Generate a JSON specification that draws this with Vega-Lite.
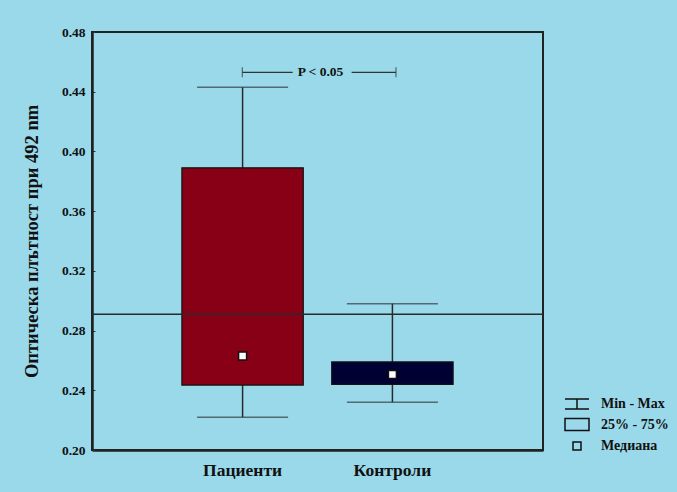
{
  "$schema": "https://vega.github.io/schema/vega-lite/v6.json",
  "width": 451,
  "height": 418,
  "autosize": {"type": "none"},
  "padding": {"left": 92, "top": 32, "right": 134, "bottom": 42},
  "background": "#99D9EA",
  "config": {
    "view": {"stroke": "#222222", "strokeWidth": 2},
    "font": "Liberation Serif",
    "axis": {
      "labelFont": "Liberation Serif",
      "labelFontWeight": "bold",
      "titleFont": "Liberation Serif",
      "titleFontWeight": "bold",
      "labelColor": "#111111",
      "titleColor": "#111111",
      "grid": false,
      "domainColor": "#222222",
      "tickColor": "#333333"
    }
  },
  "resolve": {"scale": {"x": "independent"}},
  "layer": [
    {
      "data": {
        "values": [
          {"group": "Пациенти", "min": 0.222, "q1": 0.2435, "median": 0.263, "q3": 0.389, "max": 0.443},
          {"group": "Контроли", "min": 0.232, "q1": 0.244, "median": 0.2505, "q3": 0.259, "max": 0.298}
        ]
      },
      "layer": [
        {
          "mark": {"type": "rule", "color": "#2a2a2a", "strokeWidth": 1.5},
          "encoding": {
            "x": {
              "field": "group",
              "type": "nominal",
              "scale": {"domain": ["Пациенти", "Контроли"], "paddingInner": 0.19, "paddingOuter": 0.6},
              "axis": {"title": null, "labelAngle": 0, "labelFontSize": 17.5, "ticks": false, "labelPadding": 11, "domainWidth": 2.5}
            },
            "y": {
              "field": "min",
              "type": "quantitative",
              "scale": {"domain": [0.2, 0.48], "nice": false, "zero": false},
              "axis": {
                "title": "Оптическа плътност при 492 nm",
                "titleFontSize": 18.5,
                "titlePadding": 20,
                "labelFontSize": 13.5,
                "values": [0.2, 0.21, 0.22, 0.23, 0.24, 0.25, 0.26, 0.27, 0.28, 0.29, 0.3, 0.31, 0.32, 0.33, 0.34, 0.35, 0.36, 0.37, 0.38, 0.39, 0.4, 0.41, 0.42, 0.43, 0.44, 0.45, 0.46, 0.47, 0.48],
                "labelExpr": "(round(datum.value*100) % 4 == 0) ? format(datum.value, '.2f') : ''",
                "labelOverlap": false,
                "tickSize": -3,
                "labelPadding": 10,
                "domainWidth": 2.5
              }
            },
            "y2": {"field": "max"}
          }
        },
        {
          "mark": {"type": "bar", "stroke": "#111111", "strokeWidth": 1.2},
          "encoding": {
            "x": {"field": "group", "type": "nominal"},
            "y": {"field": "q1", "type": "quantitative"},
            "y2": {"field": "q3"},
            "color": {
              "field": "group",
              "type": "nominal",
              "scale": {"domain": ["Пациенти", "Контроли"], "range": ["#880015", "#000033"]},
              "legend": null
            }
          }
        },
        {
          "data": {"values": [{"level": 0.291}]},
          "mark": {"type": "rule", "color": "#2a2a2a", "strokeWidth": 1.5},
          "encoding": {"y": {"field": "level", "type": "quantitative"}}
        },
        {
          "transform": [{"fold": ["min", "max"], "as": ["stat", "value"]}],
          "mark": {"type": "tick", "size": 91, "thickness": 1.5, "color": "#333a3d", "orient": "horizontal"},
          "encoding": {
            "x": {"field": "group", "type": "nominal"},
            "y": {"field": "value", "type": "quantitative"}
          }
        },
        {
          "mark": {"type": "square", "filled": true, "color": "white", "size": 64, "opacity": 1},
          "encoding": {
            "x": {"field": "group", "type": "nominal"},
            "y": {"field": "median", "type": "quantitative"}
          }
        },
        {
          "mark": {"type": "point", "filled": false, "color": "#111111", "strokeWidth": 1.5, "size": 400, "opacity": 1},
          "encoding": {
            "x": {"field": "group", "type": "nominal"},
            "y": {"field": "median", "type": "quantitative"},
            "shape": {
              "datum": "Медиана",
              "type": "nominal",
              "scale": {
                "domain": ["Min - Max", "25% - 75%", "Медиана"],
                "range": [
                  "M-1.2,-0.5H1.2M-1.2,0.5H1.2M0,-0.5V0.5",
                  "M-1.2,-0.6H1.2V0.6H-1.2Z",
                  "M-0.4,-0.4H0.4V0.4H-0.4Z"
                ]
              },
              "legend": {
                "title": null,
                "orient": "none",
                "legendX": 474,
                "legendY": 361,
                "padding": 0,
                "symbolSize": 400,
                "labelOffset": 13,
                "labelFont": "Liberation Serif",
                "labelFontWeight": "bold",
                "labelFontSize": 14,
                "labelColor": "#111111",
                "rowPadding": 1.5,
                "symbolStrokeWidth": 1.5,
                "symbolStrokeColor": "#111111",
                "symbolFillColor": "transparent",
                "symbolOpacity": 1
              }
            }
          }
        }
      ]
    },
    {
      "layer": [
        {
          "data": {"values": [{"start": 1.0, "end": 1.335, "level": 0.453}, {"start": 1.727, "end": 2.022, "level": 0.453}]},
          "mark": {"type": "rule", "color": "#333333", "strokeWidth": 1.2},
          "encoding": {
            "x": {"field": "start", "type": "quantitative", "scale": {"domain": [0, 3], "nice": false, "zero": false}, "axis": null},
            "x2": {"field": "end"},
            "y": {"field": "level", "type": "quantitative"}
          }
        },
        {
          "data": {"values": [{"pos": 1.0, "level": 0.453}, {"pos": 2.022, "level": 0.453}]},
          "mark": {"type": "tick", "orient": "vertical", "size": 10, "thickness": 1.2, "color": "#333333"},
          "encoding": {
            "x": {"field": "pos", "type": "quantitative"},
            "y": {"field": "level", "type": "quantitative"}
          }
        },
        {
          "data": {"values": [{"pos": 1.52, "level": 0.453, "label": "P < 0.05"}]},
          "mark": {"type": "text", "font": "Liberation Serif", "fontWeight": "bold", "fontSize": 13.5, "baseline": "middle", "align": "center", "color": "#111111"},
          "encoding": {
            "x": {"field": "pos", "type": "quantitative"},
            "y": {"field": "level", "type": "quantitative"},
            "text": {"field": "label"}
          }
        }
      ]
    }
  ]
}
